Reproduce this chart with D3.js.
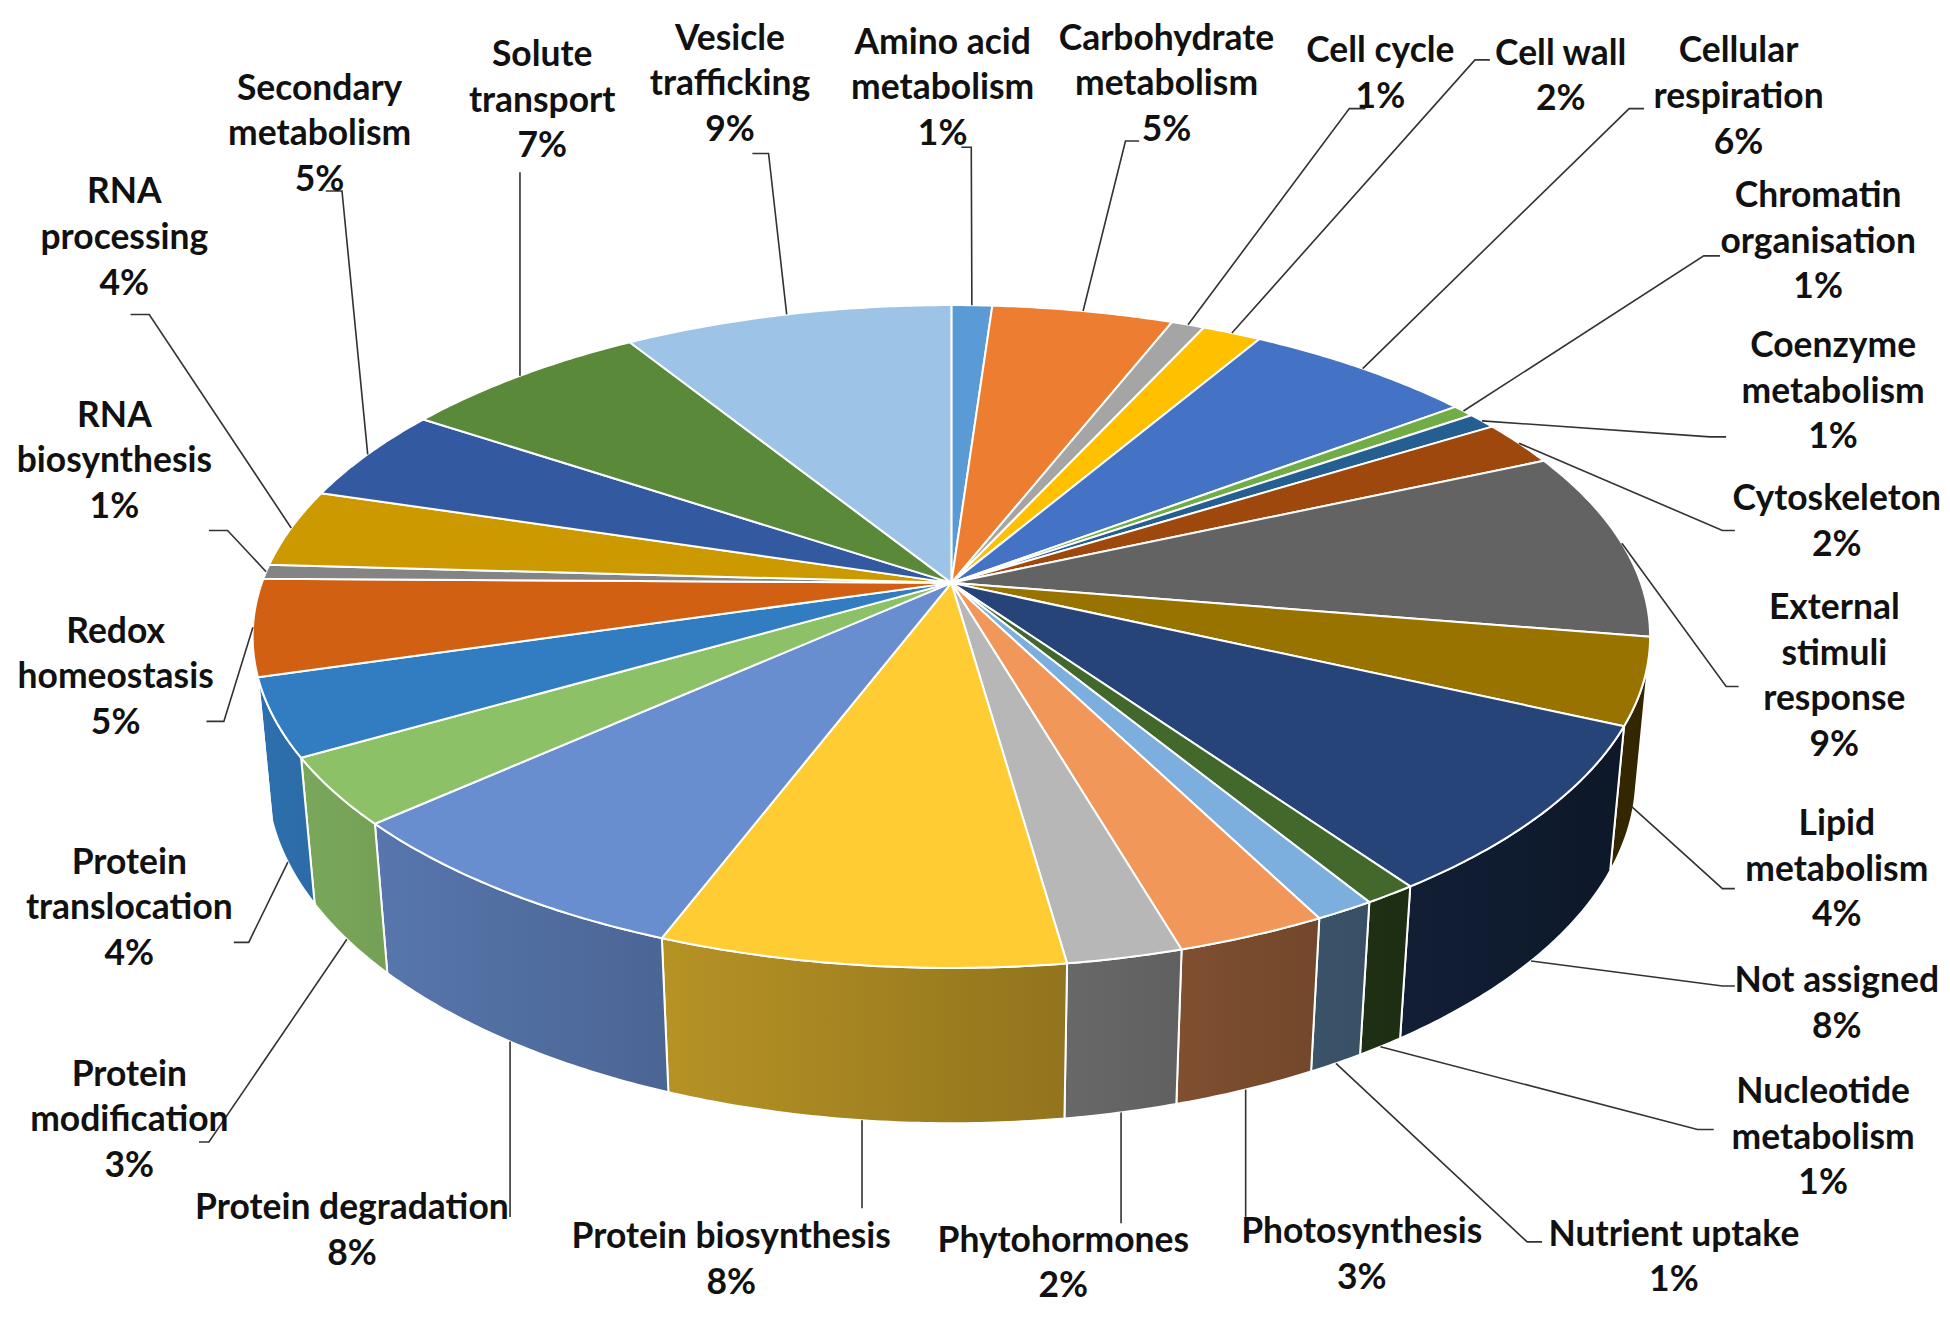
<!DOCTYPE html>
<html>
<head>
<meta charset="utf-8">
<script src="https://cdn.jsdelivr.net/npm/d3@7"></script>
<style>
    html, body { margin: 0; padding: 0; background: #fff; }
    svg { display: block; }
    .lbl { font-family: Lato, "Open Sans", sans-serif; font-weight: 700; font-size: 28.5px; fill: #111; }
    .leader { fill: none; stroke: #333; stroke-width: 1.3; }
    .face { stroke: #fff; stroke-width: 1.6; stroke-linejoin: round; }
</style>
</head>
<body>
<svg id="chart" width="1950" height="1318" viewBox="0 0 1568 1056" preserveAspectRatio="none"></svg>
<script>
// categories, "|" marks a line break in the label
var categories = [
    "Amino acid|metabolism", "Carbohydrate|metabolism", "Cell cycle", "Cell wall",
    "Cellular|respiration", "Chromatin|organisation", "Coenzyme|metabolism", "Cytoskeleton",
    "External|stimuli|response", "Lipid|metabolism", "Not assigned", "Nucleotide|metabolism",
    "Nutrient uptake", "Photosynthesis", "Phytohormones", "Protein biosynthesis",
    "Protein degradation", "Protein|modification", "Protein|translocation", "Redox|homeostasis",
    "RNA|biosynthesis", "RNA|processing", "Secondary|metabolism", "Solute|transport",
    "Vesicle|trafficking"
];

// share of proteins per category (%)
var values = [
    1.1, 4.9, 0.9, 1.6,
    6.3, 0.6, 0.8, 2.2,
    9.2, 4.2, 8.4, 1.05,
    1.2, 3.0, 2.3, 8.05,
    7.6, 3.3, 3.8, 4.7,
    0.7, 3.8, 4.6, 6.8,
    8.9
];

var sliceColors = [
    "#5B9BD5", "#ED7D31", "#A5A5A5", "#FFC000",
    "#4472C4", "#70AD47", "#255E91", "#9E480E",
    "#636363", "#997300", "#264478", "#43682B",
    "#7CAFDD", "#F1975A", "#B7B7B7", "#FFCD33",
    "#698ED0", "#8CC168", "#327DC2", "#D26012",
    "#848484", "#CC9A00", "#335AA1", "#5A8A39",
    "#9DC3E6"
];

// label layout: centre x and first line y
var labelAt = [
    [758, 33], [938, 30], [1110, 40], [1255, 42],
    [1398, 40], [1462, 156], [1474, 276], [1477, 399],
    [1475, 486], [1477, 659], [1477, 785], [1466, 874],
    [1346, 988], [1095, 986], [855, 993], [588, 990],
    [283, 967], [104, 860], [104, 690], [93, 505],
    [92, 332], [100, 153], [257, 70], [436, 43],
    [587, 30]
];

// leader line bends after the start point on the pie (null x = keep x)
var leaderPts = [
    [[781, 118], [773, 118]], [[905, 113], [916, 113]], [[1085, 87], [1098, 87]], [[1186, 48], [1198, 48]],
    [[1310, 87], [1322, 87]], [[1370, 205], [1383, 205]], [[1375, 350], [1388, 350]], [[1385, 425], [1395, 425]],
    [[1388, 550], [1398, 550]], [[1385, 712], [1395, 712]], [[1385, 790], [1395, 790]], [[1365, 905], [1378, 905]],
    [[1228, 995], [1240, 995]], [[null, 975]], [[null, 980]], [[null, 968]],
    [[null, 975]], [[168, 915], [160, 915]], [[200, 755], [188, 755]], [[180, 578], [166, 578]],
    [[183, 425], [168, 425]], [[120, 252], [105, 252]], [[275, 153], [262, 153]], [[null, 138]],
    [[618, 123], [605, 123]]
];

var svg = d3.select("#chart");

// simple perspective camera for the 3-D pie
var cx = 765, cy = 467, F = 3030, D = 5.465, thick = 0.23;
var phi = 27.8 * Math.PI / 180, cphi = Math.cos(phi), sphi = Math.sin(phi);

function projectXYZ(X, Y, Z) {
    var yc = Y * cphi - Z * sphi;
    var zc = D - (Z * cphi + Y * sphi);
    return [cx + F * X / zc, cy - F * yc / zc];
}
function project(theta, Y) {
    return projectXYZ(Math.sin(theta), Y, -Math.cos(theta));
}
function rimPoints(a0, a1, Y) {
    var n = Math.max(2, Math.ceil((a1 - a0) / (Math.PI / 360)));
    return d3.range(n + 1).map(function (i) {
        return project(a0 + (a1 - a0) * i / n, Y);
    });
}
function shade(color, theta) {
    var k = 0.61 - 0.3 * Math.sin(theta);
    var c = d3.rgb(color);
    return d3.rgb(c.r * k, c.g * k, c.b * k).formatHex();
}

var pie = d3.pie().sort(null).value(function (d) { return d; })
    .startAngle(0).endAngle(2 * Math.PI);
var arcs = pie(values);
var total = d3.sum(values);
var line = d3.line();

var visFrom = Math.acos(-1 / (D * cphi)), visTo = 2 * Math.PI - visFrom;
var defs = svg.append("defs");
var sideG = svg.append("g");
var topG = svg.append("g");

arcs.forEach(function (a, i) {
    var s = Math.max(a.startAngle, visFrom), e = Math.min(a.endAngle, visTo);
    if (s < e) {
        var xs = project(s, 0)[0], xe = project(e, 0)[0];
        var grad = defs.append("linearGradient")
            .attr("id", "side" + i)
            .attr("gradientUnits", "userSpaceOnUse")
            .attr("x1", xe).attr("x2", xs).attr("y1", 0).attr("y2", 0);
        var m = 8;
        d3.range(m + 1).reverse().forEach(function (k) {
            var th = s + (e - s) * k / m;
            var off = xs === xe ? 0 : (project(th, 0)[0] - xe) / (xs - xe);
            grad.append("stop")
                .attr("offset", Math.max(0, Math.min(1, off)))
                .attr("stop-color", shade(sliceColors[i], th));
        });
        var pts = rimPoints(s, e, 0).concat(rimPoints(s, e, -thick).reverse());
        sideG.append("path")
            .attr("class", "face")
            .attr("d", line(pts) + "Z")
            .attr("fill", "url(#side" + i + ")");
    }
    var apex = projectXYZ(0, 0, 0);
    topG.append("path")
        .attr("class", "face")
        .attr("d", line([apex].concat(rimPoints(a.startAngle, a.endAngle, 0))) + "Z")
        .attr("fill", sliceColors[i]);
});

// leader lines
var leaderG = svg.append("g");
arcs.forEach(function (a, i) {
    var mid = (a.startAngle + a.endAngle) / 2;
    var t = 0;
    if (mid > visFrom && mid < visTo) t = Math.max(0, Math.min(1, -Math.cos(mid) * 3));
    var pts = [project(mid, -thick * t)];
    leaderPts[i].forEach(function (p) {
        var prev = pts[pts.length - 1];
        pts.push([p[0] === null ? prev[0] : p[0], p[1]]);
    });
    leaderG.append("path").attr("class", "leader").attr("d", line(pts));
});

// labels
var lineH = 36.5;
var labelG = svg.append("g");
categories.forEach(function (name, i) {
    var lines = name.split("|");
    lines.push(Math.round(values[i] / total * 100) + "%");
    var txt = labelG.append("text")
        .attr("class", "lbl")
        .attr("text-anchor", "middle");
    lines.forEach(function (l, j) {
        txt.append("tspan")
            .attr("x", labelAt[i][0])
            .attr("y", labelAt[i][1] + 10 + j * lineH)
            .text(l);
    });
});
</script>
</body>
</html>
